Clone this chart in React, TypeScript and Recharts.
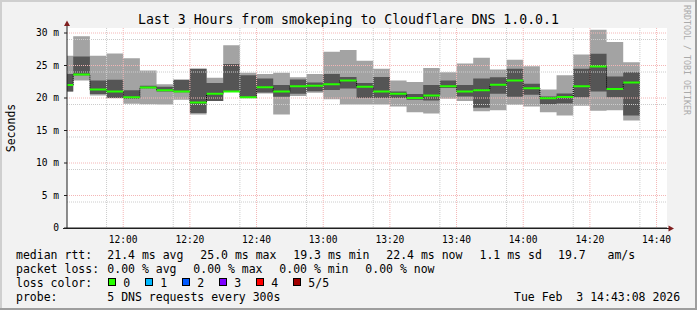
import React from 'react';
import { ComposedChart, Area, Line, XAxis, YAxis, CartesianGrid } from 'recharts';

// 5 minute slots (start time of each), first one is cut by the 3h window
const slotStart = [
  '11:43:08', '11:45', '11:50', '11:55',
  '12:00', '12:05', '12:10', '12:15', '12:20', '12:25', '12:30', '12:35', '12:40', '12:45', '12:50', '12:55',
  '13:00', '13:05', '13:10', '13:15', '13:20', '13:25', '13:30', '13:35', '13:40', '13:45', '13:50', '13:55',
  '14:00', '14:05', '14:10', '14:15', '14:20', '14:25', '14:30',
];
const slotEnd = '14:35';
const windowStart = '11:43:08';
const windowEnd = '14:43:08';
const timeTicks = ['12:00', '12:20', '12:40', '13:00', '13:20', '13:40', '14:00', '14:20', '14:40'];
const rttTicks = [0, 5, 10, 15, 20, 25, 30];

// sorted rtt of the 5 pings per slot, in ms
const pingMax = [26.5, 29.5, 26.5, 26.85, 26.1, 24.25, 22.1, 22.8, 24.5, 23.1, 28.1, 23.9, 23.7, 23.9, 23.2, 23.7, 27.1, 27.4, 25.75, 24.5, 22.7, 22.45, 24.6, 23.95, 25.3, 26.2, 24.4, 25.9, 24.9, 21.3, 23.5, 26.7, 30.5, 28.6, 25.5];
const ping4 = [23.7, 26.4, 22.7, 22.8, 21.2, 21.9, 21.75, 22.8, 24.5, 22.3, 25.25, 23.5, 23.0, 22.0, 22.85, 22.4, 23.7, 23.25, 22.3, 23.25, 21.0, 20.6, 22.0, 22.7, 22.0, 23.0, 23.2, 24.5, 22.2, 20.25, 20.7, 24.5, 26.8, 23.3, 23.95];
const median = [22.0, 23.6, 21.3, 21.0, 20.1, 21.6, 21.2, 21.0, 19.3, 20.65, 21.0, 20.1, 21.65, 21.0, 21.8, 21.9, 22.1, 22.7, 21.75, 21.0, 20.65, 20.0, 20.4, 21.8, 21.0, 21.2, 22.05, 22.7, 21.5, 19.95, 20.15, 21.8, 24.85, 21.4, 22.4];
const ping2 = [21.0, 23.5, 20.6, 20.0, 19.9, 21.5, 21.0, 20.9, 17.7, 19.55, 21.0, 20.0, 20.85, 20.2, 20.65, 21.05, 21.25, 21.45, 20.0, 20.0, 20.0, 19.75, 19.6, 21.55, 20.25, 18.5, 20.65, 20.2, 20.5, 19.05, 19.15, 20.1, 21.0, 20.1, 17.3];
const pingMin = [21.0, 22.7, 20.4, 19.95, 19.1, 19.05, 19.0, 19.75, 17.45, 19.55, 21.0, 19.95, 20.7, 17.45, 20.3, 20.8, 19.8, 19.0, 19.0, 19.0, 18.7, 17.8, 17.6, 19.9, 19.55, 17.95, 18.1, 18.95, 18.7, 17.8, 17.3, 18.8, 18.05, 18.1, 16.55];

const lossLabels = ['0', '1', '2', '3', '4', '5/5'];
const lossColors = ['#26ff00', '#00b8ff', '#0059ff', '#7e00ff', '#ff0000', '#a10000'];

const rttLegend: [string, number][] = [
  ['21.4 ms avg', 107.3], ['25.0 ms max', 200.3], ['19.3 ms min', 293.3], ['22.4 ms now', 386.3],
  ['1.1 ms sd', 479.5], ['19.7', 558], ['am/s', 607.5],
];
const lossLegend: [string, number][] = [
  ['0.00 % avg', 107.3], ['0.00 % max', 193.3], ['0.00 % min', 279.3], ['0.00 % now', 365.3],
];

const toMin = (s: string) => {
  const [h, m, sec] = s.split(':').map(Number);
  return h * 60 + m + (sec || 0) / 60;
};

const t0 = toMin(windowStart);
const t1 = toMin(windowEnd);
const yTop = 30.77;

const rows = slotStart.map((s, i) => ({
  t: toMin(s),
  outer: [pingMin[i], pingMax[i]],
  inner: [ping2[i], ping4[i]],
  med: median[i],
}));
const last = rows.length - 1;
rows.push({ ...rows[last], t: toMin(slotEnd) });

// green median pieces, one per slot
const medSegs: { t: number; g: number | null }[] = [];
for (let i = 0; i < median.length; i++) {
  medSegs.push({ t: rows[i].t, g: median[i] });
  medSegs.push({ t: rows[i + 1].t, g: median[i] });
  medSegs.push({ t: rows[i + 1].t, g: null });
}

const minorY: number[] = [];
for (let v = 1; v < yTop; v++) if (v % 5 !== 0) minorY.push(v);
const majorY = rttTicks.filter((v) => v > 0);
const minorX: number[] = [];
for (let m = toMin('11:45'); m < t1; m += 5) if (m % 20 !== 0) minorX.push(m);
const majorX = timeTicks.map(toMin);

const fmtTime = (m: number) => {
  const h = Math.floor(m / 60);
  const mm = Math.round(m - h * 60);
  return `${h}:${mm < 10 ? '0' : ''}${mm}`;
};

const MONO = '"DejaVu Sans Mono", monospace';
const W = 697;
const H = 310;

const Overlay: React.FC = () => (
  <svg width={W} height={H} style={{ position: 'absolute', left: 0, top: 0, pointerEvents: 'none' }} fontFamily={MONO}>
    {/* frame */}
    <rect x={0} y={0} width={W} height={2} fill="#cfcfcf" />
    <rect x={0} y={0} width={2} height={H} fill="#cfcfcf" />
    <rect x={0} y={H - 2} width={W} height={2} fill="#9e9e9e" />
    <rect x={W - 2} y={0} width={2} height={H} fill="#9e9e9e" />

    {/* axis extensions + arrows */}
    <line x1={67} y1={25} x2={67} y2={28} stroke="#1f1f1f" />
    <line x1={63} y1={228.5} x2={669} y2={228.5} stroke="#1f1f1f" />
    <polygon points="67,20.5 64,26 70,26" fill="#801f1f" />
    <polygon points="674,228.5 668.5,225.5 668.5,231.5" fill="#801f1f" />

    <text x={348.5} y={19.3} textAnchor="middle" dominantBaseline="central" fontSize={13.2} fill="#000">
      Last 3 Hours from smokeping to Cloudflare DNS 1.0.0.1
    </text>
    <text transform="translate(10.5,128) rotate(-90)" textAnchor="middle" dominantBaseline="central" fontSize={11.5} fill="#000">
      Seconds
    </text>
    <text transform="translate(687,60) rotate(90)" textAnchor="middle" dominantBaseline="central" fontSize={8.3} fill="#aaaaaa">
      RRDTOOL / TOBI OETIKER
    </text>

    <g fontSize={11.5} fill="#000" dominantBaseline="central">
      <text x={16} y={254.5}>median rtt:</text>
      {rttLegend.map(([s, x]) => (
        <text key={s} x={x} y={254.5}>{s}</text>
      ))}
      <text x={16} y={268.7}>packet loss:</text>
      {lossLegend.map(([s, x]) => (
        <text key={s} x={x} y={268.7}>{s}</text>
      ))}
      <text x={16} y={282.5}>loss color:</text>
      {lossLabels.map((l, i) => (
        <g key={l}>
          <rect x={108.5 + i * 37} y={278.5} width={7} height={7} fill={lossColors[i]} stroke="#000" strokeWidth={1} />
          <text x={123.3 + i * 37} y={282.5}>{l}</text>
        </g>
      ))}
      <text x={16} y={296.7}>probe:</text>
      <text x={107.3} y={296.7}>5 DNS requests every 300s</text>
      <text x={514} y={296.7} xmlSpace="preserve" style={{ whiteSpace: 'pre' }}>{'Tue Feb  3 14:43:08 2026'}</text>
    </g>
  </svg>
);

export default function App() {
  return (
    <div style={{ position: 'fixed', left: 0, top: 0, width: W, height: H, background: '#f2f2f2', overflow: 'hidden' }}>
      {/* smoke */}
      <div style={{ position: 'absolute', left: 0, top: 0 }}>
        <ComposedChart width={W} height={H} data={rows} margin={{ top: 28, right: 30, bottom: 82, left: 67 }}>
          <CartesianGrid fill="#ffffff" horizontal={false} vertical={false} />
          <XAxis dataKey="t" type="number" domain={[t0, t1]} hide allowDataOverflow />
          <YAxis type="number" domain={[0, yTop]} hide allowDataOverflow />
          <Area dataKey="outer" type="stepAfter" fill="#a3a3a3" fillOpacity={1} stroke="none" isAnimationActive={false} />
          <Area dataKey="inner" type="stepAfter" fill="#555555" fillOpacity={1} stroke="none" isAnimationActive={false} />
        </ComposedChart>
      </div>
      {/* grid, median, axes on top */}
      <div style={{ position: 'absolute', left: 0, top: 0 }}>
        <ComposedChart width={W} height={H} margin={{ top: 28, right: 30, bottom: 62, left: 17 }}>
          <CartesianGrid horizontalValues={minorY} verticalValues={minorX} stroke="#cccccc" strokeDasharray="1 1" />
          <CartesianGrid horizontalValues={majorY} verticalValues={majorX} stroke="#f4b6b6" strokeDasharray="1 1" />
          <XAxis
            dataKey="t"
            type="number"
            domain={[t0, t1]}
            allowDataOverflow
            ticks={majorX}
            tickFormatter={fmtTime}
            height={20}
            axisLine={{ stroke: '#1f1f1f' }}
            tickLine={false}
            tickMargin={2}
            tick={{ fontFamily: MONO, fontSize: 9.6, fill: '#000' }}
          />
          <YAxis
            type="number"
            domain={[0, yTop]}
            allowDataOverflow
            ticks={rttTicks}
            tickFormatter={(v: number) => (v === 0 ? '0' : `${v} m`)}
            width={50}
            axisLine={{ stroke: '#1f1f1f' }}
            tickLine={{ stroke: '#1f1f1f' }}
            tickSize={3}
            tickMargin={5}
            tick={{ fontFamily: MONO, fontSize: 9.6, fill: '#000' }}
          />
          <Line data={rows} dataKey="med" type="stepAfter" stroke="#000" strokeWidth={1} strokeDasharray="1 1" dot={false} isAnimationActive={false} />
          <Line data={medSegs} dataKey="g" type="linear" stroke="#26ff00" strokeWidth={2} dot={false} connectNulls={false} isAnimationActive={false} />
        </ComposedChart>
      </div>
      <Overlay />
    </div>
  );
}
